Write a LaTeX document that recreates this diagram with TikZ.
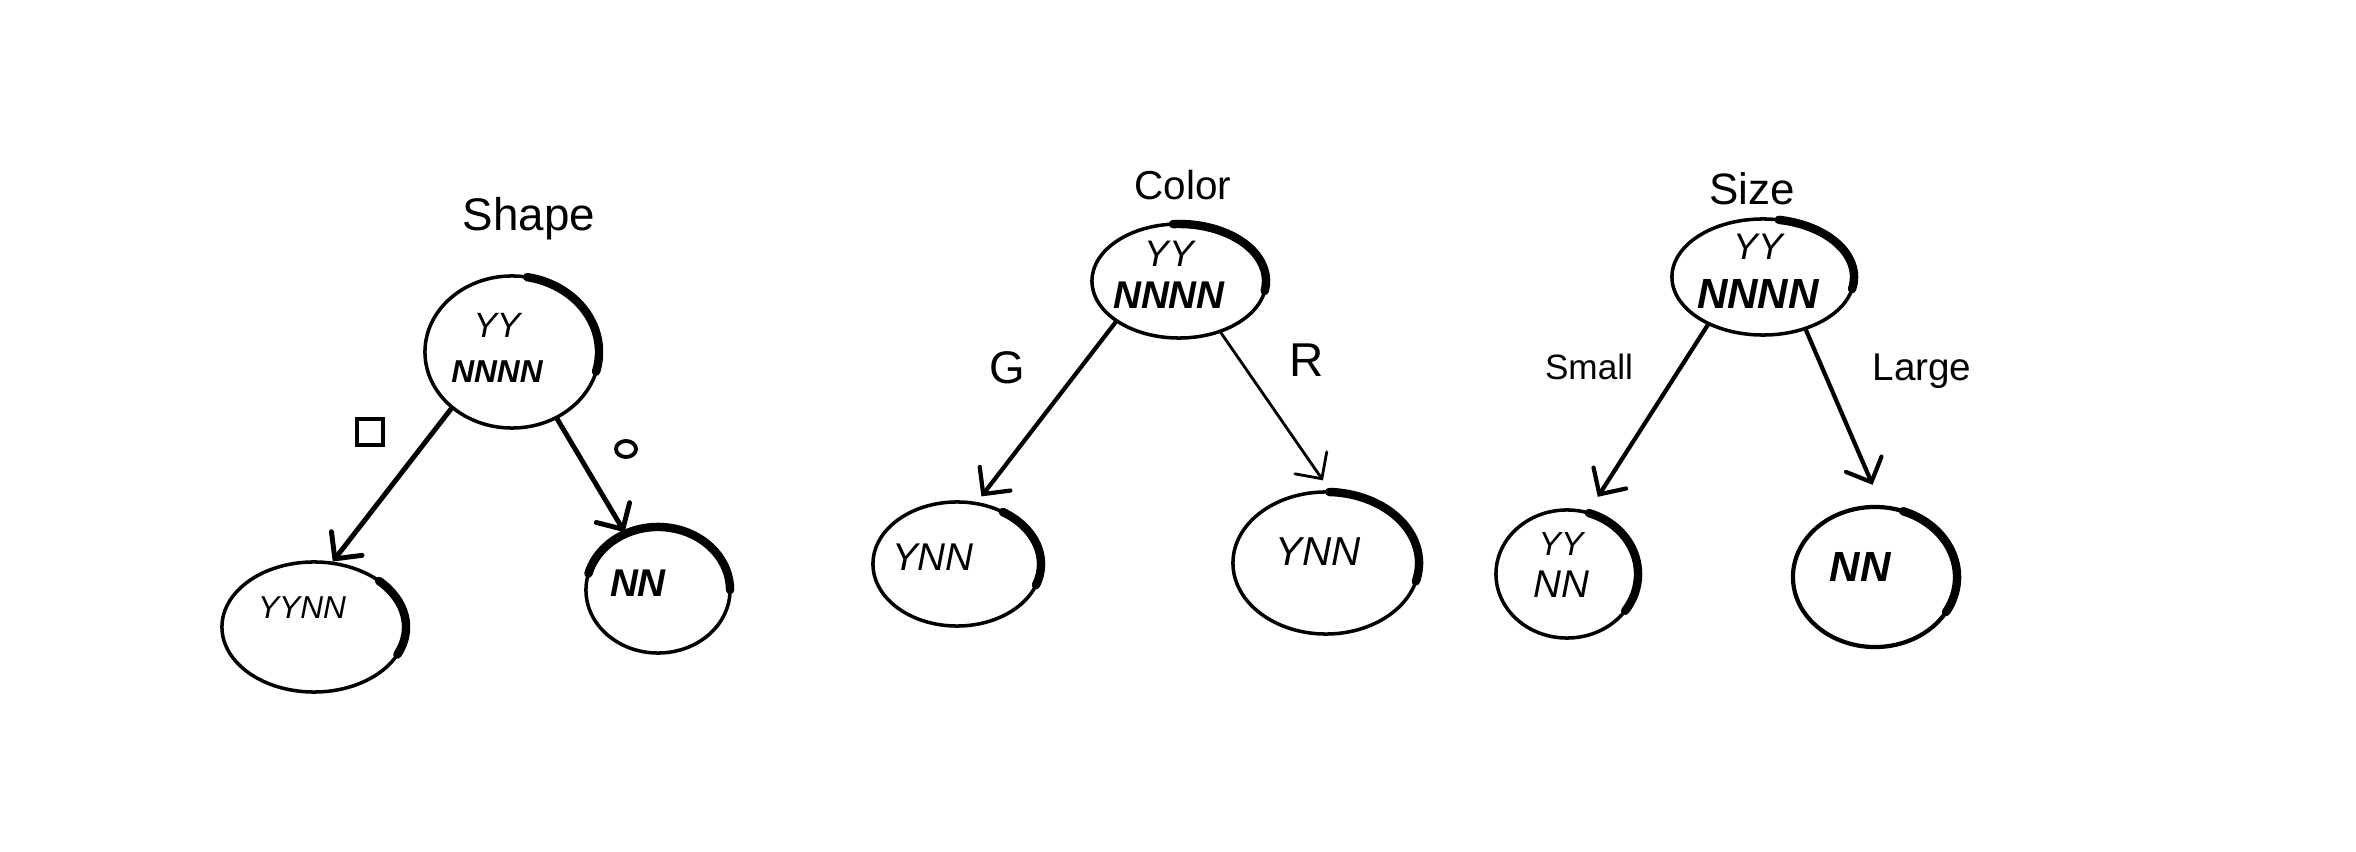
\documentclass[tikz,border=0pt]{standalone}
\usepackage{fontspec}
\setmainfont{Liberation Sans}
\usetikzlibrary{shapes.geometric,arrows.meta,calc}
\newcommand\rimarc[5]{\draw[rim] ($(#1.center)+(#4:#2 and #3)$) arc[start angle=#4, end angle=#5, x radius=#2, y radius=#3];}
\newcommand\fs[1]{\fontsize{#1}{#1}\selectfont}
\begin{document}
\begin{tikzpicture}[x=0.01cm,y=0.01cm,
  bubble/.style={draw, ellipse, line width=1.0pt, inner sep=0pt},
  rim/.style={line width=2.4pt, line cap=round},
  arr/.style={line width=1.2pt, line cap=round, -{Straight Barb[length=5.5pt,width=11pt,line cap=round]}},
  inner/.style={align=center, inner sep=0pt, font=\itshape}
]
\useasboundingbox (0,0) rectangle (2356,-852);
\fill[white] (0,0) rectangle (2356,-852);

% ---------- Tree 1: Shape ----------
\node[font=\fs{13}] (t1) at (529,-219) {Shape};
\node[bubble, minimum width=1.74cm, minimum height=1.52cm] (r1) at (512,-352) {};
\node[inner] (r1t) at (497,-348) {{\fs{10}YY}\\[1pt]{\fs{9}\bfseries NNNN}};
\node[bubble, minimum width=1.84cm, minimum height=1.30cm] (a1) at (314,-627) {};
\node[inner, font=\fs{9}\itshape] (a1t) at (302,-608) {YYNN};
\node[bubble, minimum width=1.44cm, minimum height=1.26cm] (b1) at (658,-590) {};
\node[inner, font=\fs{11}\itshape\bfseries] (b1t) at (638,-583) {NN};
\rimarc{r1}{0.87cm}{0.76cm}{80}{-15}
\rimarc{a1}{0.92cm}{0.65cm}{45}{-25}
\rimarc{b1}{0.72cm}{0.63cm}{165}{0}
\draw[arr, line width=1.4pt] (r1.-137) -- (a1.74.5);
\draw[arr, line width=1.4pt] (r1.-56) -- (b1.120);
\node[draw, line width=1.3pt, minimum size=0.26cm, inner sep=0pt] (sq) at (370,-432) {};
\node[draw, ellipse, line width=1.1pt, minimum width=0.2cm, minimum height=0.16cm, inner sep=0pt] (ci) at (626,-449) {};

% ---------- Tree 2: Color ----------
\node[font=\fs{11.5}] (t2) at (1183,-185) {Color};
\node[bubble, minimum width=1.74cm, minimum height=1.14cm] (r2) at (1179,-281) {};
\node[inner] (r2t) at (1169,-275) {{\fs{10.5}YY}\\[0pt]{\fs{11}\bfseries NNNN}};
\node[bubble, minimum width=1.68cm, minimum height=1.24cm] (a2) at (957,-564) {};
\node[inner, font=\fs{11}\itshape] (a2t) at (933,-557) {YNN};
\node[bubble, minimum width=1.86cm, minimum height=1.42cm] (b2) at (1326,-563) {};
\node[inner, font=\fs{11.5}\itshape] (b2t) at (1318,-552) {YNN};
\rimarc{r2}{0.87cm}{0.57cm}{94}{-10}
\rimarc{a2}{0.84cm}{0.62cm}{57}{-20}
\rimarc{b2}{0.93cm}{0.71cm}{88}{-15}
\draw[arr, line width=1.2pt, shorten >=0.07cm] (r2.-147.5) -- (a2.72.6);
\draw[arr, line width=0.8pt, shorten >=0.12cm] (r2.-51.5) -- (b2.87);
\node[font=\fs{13}] (g) at (1007,-368) {G};
\node[font=\fs{13.5}] (rr) at (1307,-360) {R};

% ---------- Tree 3: Size ----------
\node[font=\fs{12.5}] (t3) at (1752,-189) {Size};
\node[bubble, minimum width=1.82cm, minimum height=1.16cm] (r3) at (1763,-277) {};
\node[inner] (r3t) at (1758,-271) {{\fs{10.5}YY}\\[2pt]{\fs{12}\bfseries NNNN}};
\node[bubble, minimum width=1.42cm, minimum height=1.28cm] (a3) at (1567,-574) {};
\node[inner] (a3t) at (1561,-565) {{\fs{9.5}YY}\\[0pt]{\fs{11}NN}};
\node[bubble, line width=1.2pt, minimum width=1.64cm, minimum height=1.40cm] (b3) at (1875,-577) {};
\node[inner, font=\fs{12}\itshape\bfseries] (b3t) at (1860,-567) {NN};
\rimarc{r3}{0.91cm}{0.58cm}{80}{-12}
\rimarc{a3}{0.71cm}{0.64cm}{72}{-35}
\rimarc{b3}{0.82cm}{0.70cm}{70}{-30}
\draw[arr, line width=1.2pt, shorten >=0.17cm] (r3.-139.8) -- (a3.71.3);
\draw[arr, line width=1.2pt, shorten >=0.22cm] (r3.-51.8) -- (b3.85);
\node[font=\fs{10}] (sm) at (1589,-367) {Small};
\node[font=\fs{11}] (lg) at (1922,-371) {Large};
\end{tikzpicture}
\end{document}
